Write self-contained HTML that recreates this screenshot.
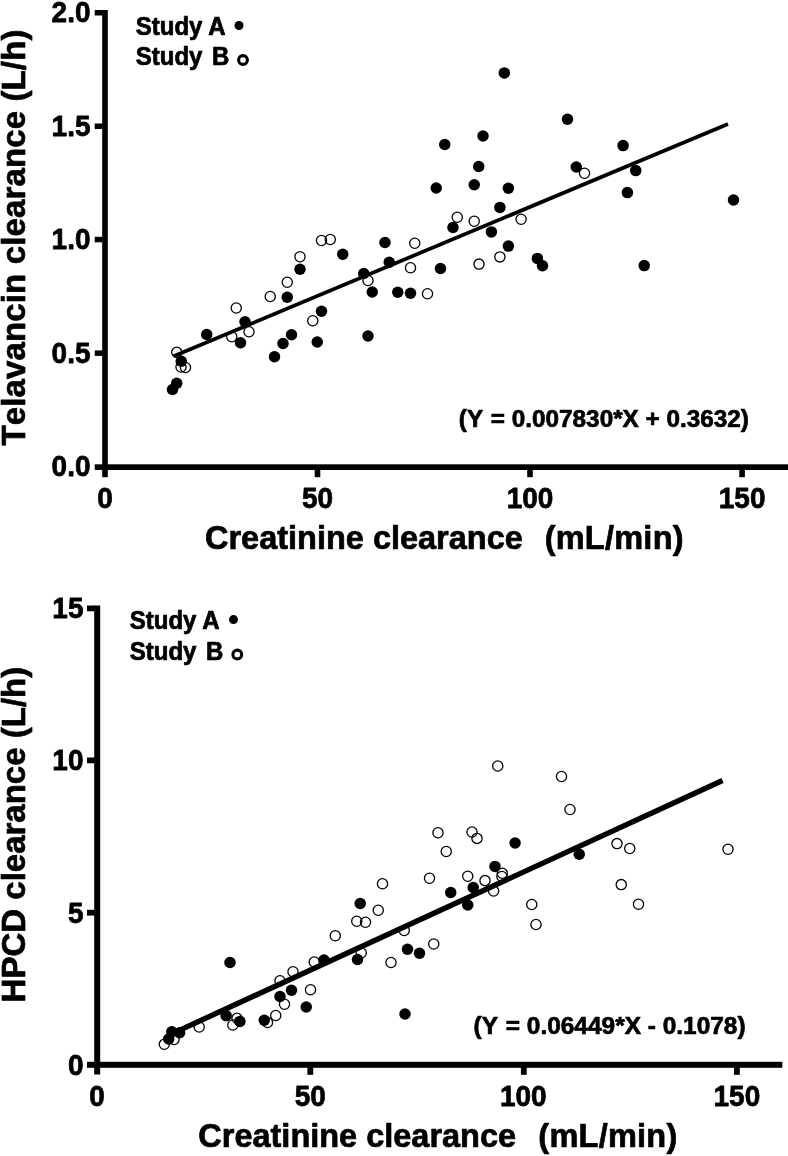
<!DOCTYPE html>
<html><head><meta charset="utf-8"><title>Clearance vs creatinine clearance</title>
<style>
html,body{margin:0;padding:0;background:#fff;}
body{width:788px;height:1156px;overflow:hidden;}
svg{display:block;will-change:transform;}
text{font-family:"Liberation Sans",sans-serif;font-weight:bold;fill:#000;stroke:#000;stroke-width:0.7px;stroke-linejoin:round;}
.tky{font-size:28px;}
.tkx{font-size:28px;}
.ti{font-size:32.5px;}
.ty{font-size:33px;}
.lg{font-size:24px;}
.eq{font-size:24.3px;font-kerning:none;}
.ax{stroke:#000;fill:none;}
.op circle{fill:none;stroke:#000;stroke-width:1.3;}
.fl circle{fill:#000;}
</style></head><body>
<svg width="788" height="1156" viewBox="0 0 788 1156">
<rect width="788" height="1156" fill="#fff"/>

<!-- ===== Chart 1 ===== -->
<g id="c1">
<!-- axes -->
<rect x="102.2" y="10" width="5.6" height="467.2" />
<rect x="94.7" y="464.3" width="693.3" height="5.7" />
<!-- y ticks -->
<rect x="94.7" y="10" width="8" height="5.5"/>
<rect x="94.7" y="123.5" width="8" height="5.5"/>
<rect x="94.7" y="236.8" width="8" height="5.5"/>
<rect x="94.7" y="350.4" width="8" height="5.5"/>
<!-- x ticks -->
<rect x="314.7" y="468" width="5.6" height="9.2"/>
<rect x="527.2" y="468" width="5.6" height="9.2"/>
<rect x="739.3" y="468" width="5.6" height="9.2"/>
<!-- tick labels -->
<g class="tky" text-anchor="end">
<text transform="translate(90.5,22.2) scale(1,1.085)">2.0</text>
<text transform="translate(90.5,135.7) scale(1,1.085)">1.5</text>
<text transform="translate(90.5,249.0) scale(1,1.085)">1.0</text>
<text transform="translate(90.5,362.6) scale(1,1.085)">0.5</text>
<text transform="translate(90.5,476.4) scale(1,1.085)">0.0</text>
</g>
<g class="tkx" text-anchor="middle">
<text transform="translate(105,507.6) scale(1,1.08)">0</text>
<text transform="translate(317.5,507.6) scale(1,1.08)">50</text>
<text transform="translate(530,507.6) scale(1,1.08)">100</text>
<text transform="translate(742.1,507.6) scale(1,1.08)">150</text>
</g>
<text class="ti" transform="translate(205,548.6) scale(1,1.04)">Creatinine clearance</text>
<text class="ti" style="letter-spacing:0.25px" transform="translate(683.8,548.6) scale(1,1.04)" text-anchor="end">(mL/min)</text>
<text class="ty" style="font-kerning:none;letter-spacing:0.13px" transform="translate(24.8,445.5) rotate(-90)">Telavancin clearance (L/h)</text>
<text class="lg" transform="translate(135.8,34.8) scale(1,1.07)">Study A</text>
<text class="lg" style="word-spacing:3px" transform="translate(135.8,65.2) scale(1,1.07)">Study B</text>
<circle cx="239" cy="25.5" r="4.5"/>
<circle cx="243" cy="60" r="4.4" fill="#fff" stroke="#000" stroke-width="3.1"/>
<text class="eq" transform="translate(458.8,426.5) scale(1,1.0)">(Y <tspan dx="1">= 0.007830*X + 0.3632)</tspan></text>
<g class="fl">
<circle cx="172.5" cy="389.5" r="5.75"/>
<circle cx="176.75" cy="383.25" r="5.75"/>
<circle cx="181.25" cy="361.25" r="5.75"/>
<circle cx="206.75" cy="334.5" r="5.75"/>
<circle cx="240.5" cy="342.75" r="5.75"/>
<circle cx="245" cy="321.75" r="5.75"/>
<circle cx="274.5" cy="356.75" r="5.75"/>
<circle cx="283" cy="343.5" r="5.75"/>
<circle cx="291.5" cy="334.75" r="5.75"/>
<circle cx="287.25" cy="297.25" r="5.75"/>
<circle cx="300" cy="269.25" r="5.75"/>
<circle cx="317.25" cy="342" r="5.75"/>
<circle cx="321.5" cy="311.25" r="5.75"/>
<circle cx="342.75" cy="254.25" r="5.75"/>
<circle cx="363.75" cy="273.5" r="5.75"/>
<circle cx="368" cy="336" r="5.75"/>
<circle cx="372.25" cy="292" r="5.75"/>
<circle cx="385" cy="242.5" r="5.75"/>
<circle cx="389.25" cy="262.25" r="5.75"/>
<circle cx="397.75" cy="292.25" r="5.75"/>
<circle cx="410.5" cy="293.25" r="5.75"/>
<circle cx="436.25" cy="188" r="5.75"/>
<circle cx="440.5" cy="268.5" r="5.75"/>
<circle cx="444.75" cy="144.5" r="5.75"/>
<circle cx="453" cy="227.5" r="5.75"/>
<circle cx="474.25" cy="184.75" r="5.75"/>
<circle cx="478.75" cy="166.5" r="5.75"/>
<circle cx="483" cy="136" r="5.75"/>
<circle cx="491.4" cy="231.9" r="5.75"/>
<circle cx="499.9" cy="207.4" r="5.75"/>
<circle cx="508.4" cy="188.25" r="5.75"/>
<circle cx="508.4" cy="246.1" r="5.75"/>
<circle cx="537.4" cy="258.4" r="5.75"/>
<circle cx="542.5" cy="265.75" r="5.75"/>
<circle cx="567.5" cy="119.25" r="5.75"/>
<circle cx="576.25" cy="167" r="5.75"/>
<circle cx="623.1" cy="145.6" r="5.75"/>
<circle cx="635.75" cy="170.6" r="5.75"/>
<circle cx="627.4" cy="192.6" r="5.75"/>
<circle cx="644.25" cy="265.6" r="5.75"/>
<circle cx="733.5" cy="200" r="5.75"/>
<circle cx="504.3" cy="72.9" r="5.75"/>
</g>
<g class="op">
<circle cx="176.75" cy="352.3" r="5.1"/>
<circle cx="181" cy="367" r="5.1"/>
<circle cx="185.5" cy="367.5" r="5.1"/>
<circle cx="231.75" cy="336.75" r="5.1"/>
<circle cx="236.25" cy="308" r="5.1"/>
<circle cx="249" cy="331.75" r="5.1"/>
<circle cx="270.25" cy="296.5" r="5.1"/>
<circle cx="287.25" cy="282.25" r="5.1"/>
<circle cx="300" cy="256.75" r="5.1"/>
<circle cx="312.75" cy="320.75" r="5.1"/>
<circle cx="321.5" cy="240.5" r="5.1"/>
<circle cx="330.25" cy="239.5" r="5.1"/>
<circle cx="368" cy="280.5" r="5.1"/>
<circle cx="414.75" cy="243.25" r="5.1"/>
<circle cx="410.5" cy="267.75" r="5.1"/>
<circle cx="427.5" cy="293.75" r="5.1"/>
<circle cx="457.25" cy="217.25" r="5.1"/>
<circle cx="474.25" cy="221.25" r="5.1"/>
<circle cx="479" cy="264.1" r="5.1"/>
<circle cx="499.9" cy="256.9" r="5.1"/>
<circle cx="521.1" cy="219.25" r="5.1"/>
<circle cx="584.5" cy="173.25" r="5.1"/>
</g>
<line class="ax" x1="173.5" y1="356.2" x2="728" y2="124" stroke-width="3.7"/>
</g>

<!-- ===== Chart 2 ===== -->
<g id="c2">
<rect x="94.2" y="605.5" width="6" height="469"/>
<rect x="87" y="1061.8" width="695.3" height="6"/>
<rect x="87" y="605.5" width="8" height="5.8"/>
<rect x="87" y="757.5" width="8" height="5.8"/>
<rect x="87" y="909.8" width="8" height="5.8"/>
<rect x="307.4" y="1066" width="5.8" height="8.8"/>
<rect x="520.9" y="1066" width="5.8" height="8.8"/>
<rect x="734" y="1066" width="5.8" height="8.8"/>
<g class="tky" text-anchor="end">
<text transform="translate(83.5,617.5) scale(1,1.085)">15</text>
<text transform="translate(83.5,770) scale(1,1.085)">10</text>
<text transform="translate(83.5,922.5) scale(1,1.085)">5</text>
<text transform="translate(83.5,1074.5) scale(1,1.085)">0</text>
</g>
<g class="tkx" text-anchor="middle">
<text transform="translate(97,1105.6) scale(1,1.08)">0</text>
<text transform="translate(310.3,1105.6) scale(1,1.08)">50</text>
<text transform="translate(523.3,1105.6) scale(1,1.08)">100</text>
<text transform="translate(736.9,1105.6) scale(1,1.08)">150</text>
</g>
<text class="ti" transform="translate(198.3,1147) scale(1,1.04)">Creatinine clearance</text>
<text class="ti" style="letter-spacing:0.25px" transform="translate(677.5,1147) scale(1,1.04)" text-anchor="end">(mL/min)</text>
<text class="ty" transform="translate(25.1,1002.4) rotate(-90)">HPCD clearance (L/h)</text>
<text class="lg" transform="translate(129.8,629.3) scale(1,1.07)">Study A</text>
<text class="lg" style="word-spacing:3px" transform="translate(129.8,659.7) scale(1,1.07)">Study B</text>
<circle cx="233.5" cy="619.6" r="4.5"/>
<circle cx="237.3" cy="654.5" r="4.4" fill="#fff" stroke="#000" stroke-width="3.1"/>
<text class="eq" style="font-size:24.45px" transform="translate(473.5,1034) scale(1,1.0)">(Y <tspan dx="1">= 0.06449*X - 0.1078)</tspan></text>
<g class="op">
<circle cx="335.25" cy="935.75" r="5.1"/>
<circle cx="314.25" cy="962" r="5.1"/>
<circle cx="293" cy="971.75" r="5.1"/>
<circle cx="280" cy="980.75" r="5.1"/>
<circle cx="310.5" cy="989.75" r="5.1"/>
<circle cx="284.5" cy="1004.25" r="5.1"/>
<circle cx="275.75" cy="1015.5" r="5.1"/>
<circle cx="267.5" cy="1022.5" r="5.1"/>
<circle cx="237" cy="1018.3" r="5.1"/>
<circle cx="232.8" cy="1025" r="5.1"/>
<circle cx="199.2" cy="1027" r="5.1"/>
<circle cx="164.3" cy="1044.3" r="5.1"/>
<circle cx="174" cy="1039.5" r="5.1"/>
<circle cx="356.75" cy="921.25" r="5.1"/>
<circle cx="365.5" cy="922.25" r="5.1"/>
<circle cx="361.25" cy="953" r="5.1"/>
<circle cx="378.25" cy="910.25" r="5.1"/>
<circle cx="382.5" cy="883.75" r="5.1"/>
<circle cx="391" cy="962.5" r="5.1"/>
<circle cx="404.25" cy="930.5" r="5.1"/>
<circle cx="429.5" cy="878.25" r="5.1"/>
<circle cx="433.75" cy="944" r="5.1"/>
<circle cx="438" cy="832.75" r="5.1"/>
<circle cx="446.25" cy="851.5" r="5.1"/>
<circle cx="467.75" cy="876.25" r="5.1"/>
<circle cx="472" cy="832" r="5.1"/>
<circle cx="477" cy="838.4" r="5.1"/>
<circle cx="485" cy="880.6" r="5.1"/>
<circle cx="493.6" cy="891" r="5.1"/>
<circle cx="502.3" cy="873.3" r="5.1"/>
<circle cx="501.9" cy="876.5" r="5.1"/>
<circle cx="497.75" cy="766" r="5.1"/>
<circle cx="561.5" cy="776.5" r="5.1"/>
<circle cx="570" cy="809.5" r="5.1"/>
<circle cx="617" cy="843.6" r="5.1"/>
<circle cx="629.75" cy="848.5" r="5.1"/>
<circle cx="621.25" cy="884.6" r="5.1"/>
<circle cx="638.5" cy="904.25" r="5.1"/>
<circle cx="531.75" cy="904.5" r="5.1"/>
<circle cx="536" cy="924.5" r="5.1"/>
<circle cx="728" cy="849.25" r="5.1"/>
</g>
<line class="ax" x1="170" y1="1034.6" x2="722.5" y2="780.5" stroke-width="5.4"/>
<g class="fl">
<circle cx="230" cy="962.5" r="5.75"/>
<circle cx="226.1" cy="1015.6" r="5.75"/>
<circle cx="239.9" cy="1021.4" r="5.75"/>
<circle cx="264.25" cy="1020.25" r="5.75"/>
<circle cx="280" cy="996.5" r="5.75"/>
<circle cx="291.5" cy="990.25" r="5.75"/>
<circle cx="306.25" cy="1007" r="5.75"/>
<circle cx="324" cy="960" r="5.75"/>
<circle cx="171.8" cy="1031.8" r="5.75"/>
<circle cx="168.7" cy="1039" r="5.75"/>
<circle cx="179.6" cy="1032.8" r="5.75"/>
<circle cx="357.5" cy="959.5" r="5.75"/>
<circle cx="360.25" cy="903.5" r="5.75"/>
<circle cx="407.5" cy="949.25" r="5.75"/>
<circle cx="419.5" cy="953.25" r="5.75"/>
<circle cx="405" cy="1014" r="5.75"/>
<circle cx="450.75" cy="892.5" r="5.75"/>
<circle cx="467.75" cy="905" r="5.75"/>
<circle cx="473.25" cy="887.5" r="5.75"/>
<circle cx="495" cy="866.4" r="5.75"/>
<circle cx="515.1" cy="843" r="5.75"/>
<circle cx="579.25" cy="854.25" r="5.75"/>
</g>
</g>
</svg>
</body></html>
